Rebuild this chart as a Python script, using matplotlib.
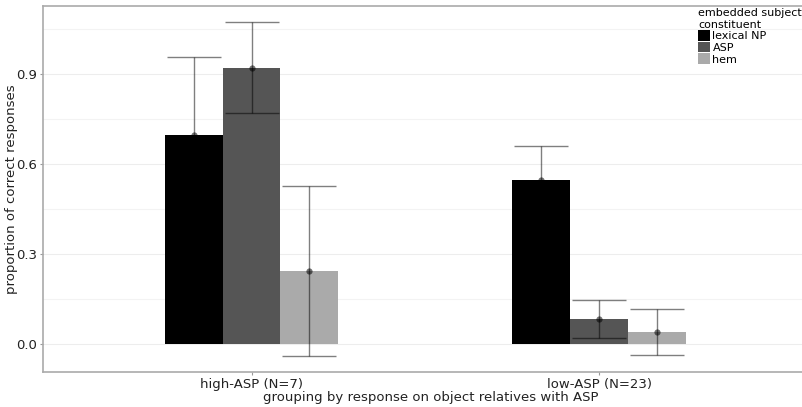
import matplotlib
matplotlib.use("Agg")
import matplotlib.pyplot as plt
import numpy as np
from matplotlib.patches import Patch

groups = ["high-ASP (N=7)", "low-ASP (N=23)"]
series = ["lexical NP", "ASP", "hem"]
colors = ["#000000", "#555555", "#aaaaaa"]
means = {
    "lexical NP": [0.696, 0.545],
    "ASP": [0.920, 0.084],
    "hem": [0.244, 0.040],
}
upper = {
    "lexical NP": [0.957, 0.659],
    "ASP": [1.074, 0.147],
    "hem": [0.528, 0.117],
}
lower = {
    "lexical NP": [0.435, 0.431],
    "ASP": [0.769, 0.020],
    "hem": [-0.040, -0.037],
}
yticks = [0.0, 0.3, 0.6, 0.9]

fig = plt.figure(figsize=(8.02, 4.07), dpi=100)
ax_w = (802-43)/802 + 0.02
ax = fig.add_axes([43/802, 35/407, ax_w, 366/407])

bw = 0.5/3
x = np.arange(1, len(groups)+1)
for i, s in enumerate(series):
    xs = x + (i-1)*bw
    m = np.array(means[s])
    ax.bar(xs, m, width=bw, color=colors[i], zorder=2)
    lo = m - np.array(lower[s])
    hi = np.array(upper[s]) - m
    ax.errorbar(xs, m, yerr=[lo, hi], fmt='none', ecolor=(0, 0, 0, 0.5),
                elinewidth=1.0, capsize=19.5, capthick=1.0, zorder=3)
    ax.scatter(xs, m, s=20, color=(0, 0, 0, 0.55), linewidths=0, zorder=4)

ax.set_xlim(0.4, 2.63)
ax.set_ylim(-0.094, 1.127)
ax.set_yticks(yticks)
ax.set_yticklabels([f"{v:.1f}" for v in yticks])
ax.set_yticks([0.15, 0.45, 0.75, 1.05], minor=True)
ax.set_xticks(x)
ax.set_xticklabels(groups)
ax.grid(True, which='major', axis='y', color='#ededed', lw=0.8, zorder=0)
ax.grid(True, which='minor', axis='y', color='#f3f3f3', lw=0.8, zorder=0)
ax.tick_params(which='minor', length=0)
ax.tick_params(which='major', length=2, color='#999999', labelsize=9.5,
               labelcolor='#222222', pad=2)
for sp in ax.spines.values():
    sp.set_color('#aaaaaa')
    sp.set_linewidth(1.2)
ax.set_xlabel("grouping by response on object relatives with ASP", fontsize=9.5,
              labelpad=0, color='#222222')
ax.set_ylabel("proportion of correct responses", fontsize=9.5,
              color='#222222')
ax.yaxis.set_label_coords(-25/(ax_w*802), 0.5)

handles = [Patch(facecolor=c, edgecolor='none') for c in colors]
leg = fig.legend(handles, series, title="embedded subject\nconstituent",
                 loc='upper left', bbox_to_anchor=(698/802, 1 - 8/407),
                 frameon=False, fontsize=8, title_fontsize=8,
                 handlelength=1.1, handleheight=1.1, handletextpad=0.2,
                 labelspacing=0.05, borderpad=0, borderaxespad=0)
leg._legend_box.align = "left"

fig.savefig("out.png", dpi=100)
